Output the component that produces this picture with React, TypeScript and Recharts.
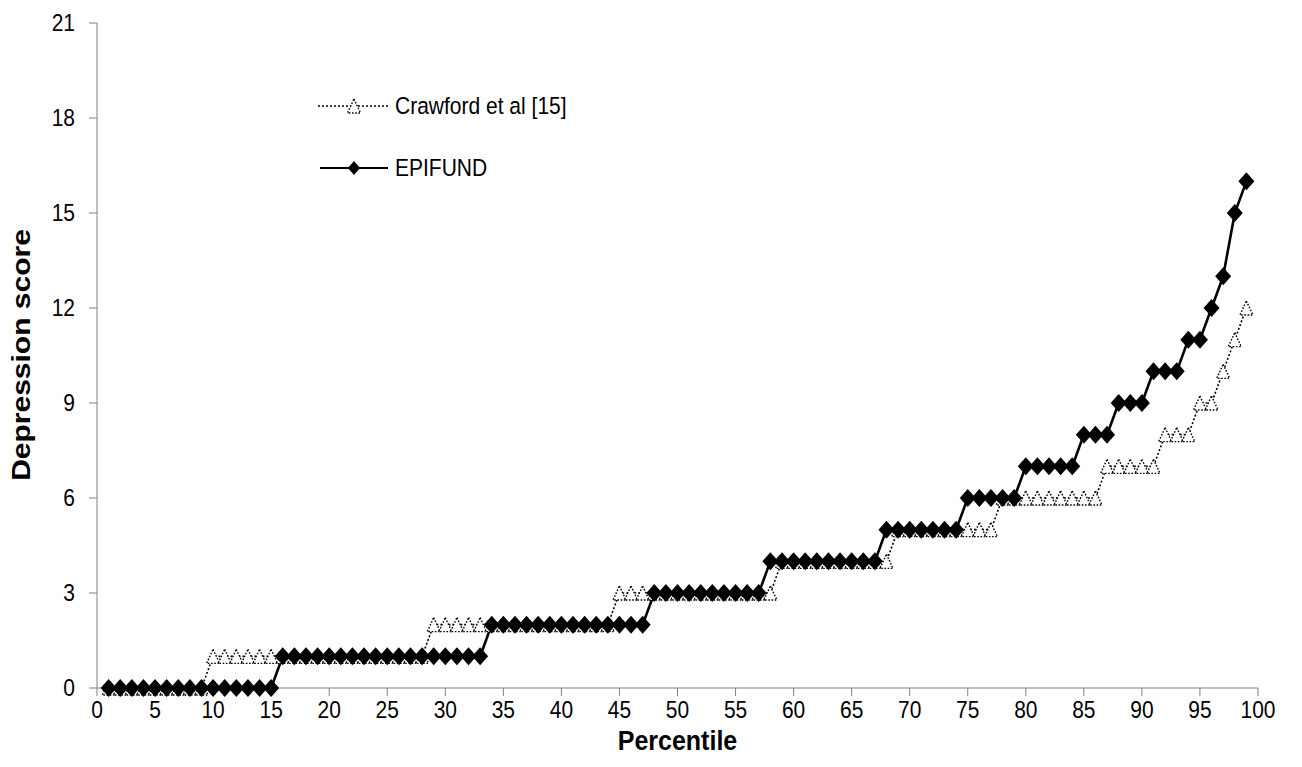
import React from 'react';
import { LineChart, Line, XAxis, YAxis, Legend, Label } from 'recharts';

// percentile rank (x)
const percentiles = [
  1, 2, 3, 4, 5, 6, 7, 8, 9, 10,
  11, 12, 13, 14, 15, 16, 17, 18, 19, 20,
  21, 22, 23, 24, 25, 26, 27, 28, 29, 30,
  31, 32, 33, 34, 35, 36, 37, 38, 39, 40,
  41, 42, 43, 44, 45, 46, 47, 48, 49, 50,
  51, 52, 53, 54, 55, 56, 57, 58, 59, 60,
  61, 62, 63, 64, 65, 66, 67, 68, 69, 70,
  71, 72, 73, 74, 75, 76, 77, 78, 79, 80,
  81, 82, 83, 84, 85, 86, 87, 88, 89, 90,
  91, 92, 93, 94, 95, 96, 97, 98, 99,
];

const crawford = [
  0, 0, 0, 0, 0, 0, 0, 0, 0, 1,
  1, 1, 1, 1, 1, 1, 1, 1, 1, 1,
  1, 1, 1, 1, 1, 1, 1, 1, 2, 2,
  2, 2, 2, 2, 2, 2, 2, 2, 2, 2,
  2, 2, 2, 2, 3, 3, 3, 3, 3, 3,
  3, 3, 3, 3, 3, 3, 3, 3, 4, 4,
  4, 4, 4, 4, 4, 4, 4, 4, 5, 5,
  5, 5, 5, 5, 5, 5, 5, 6, 6, 6,
  6, 6, 6, 6, 6, 6, 7, 7, 7, 7,
  7, 8, 8, 8, 9, 9, 10, 11, 12,
];

const epifund = [
  0, 0, 0, 0, 0, 0, 0, 0, 0, 0,
  0, 0, 0, 0, 0, 1, 1, 1, 1, 1,
  1, 1, 1, 1, 1, 1, 1, 1, 1, 1,
  1, 1, 1, 2, 2, 2, 2, 2, 2, 2,
  2, 2, 2, 2, 2, 2, 2, 3, 3, 3,
  3, 3, 3, 3, 3, 3, 3, 4, 4, 4,
  4, 4, 4, 4, 4, 4, 4, 5, 5, 5,
  5, 5, 5, 5, 6, 6, 6, 6, 6, 7,
  7, 7, 7, 7, 8, 8, 8, 9, 9, 9,
  10, 10, 10, 11, 11, 12, 13, 15, 16,
];

const xTicks = [0, 5, 10, 15, 20, 25, 30, 35, 40, 45, 50, 55, 60, 65, 70, 75, 80, 85, 90, 95, 100];
const yTicks = [0, 3, 6, 9, 12, 15, 18, 21];

const data = percentiles.map((p, i) => ({ p, crawford: crawford[i], epifund: epifund[i] }));

const FONT = 'Arial, "Liberation Sans", sans-serif';
const AXIS = '#808080';
const STRETCH = 1.12; // the original figure's lettering is a bit taller than wide

const XTick = (props: any) => {
  const { x, y, payload } = props;
  return (
    <text
      transform={`translate(${x},${y}) scale(1,${STRETCH})`}
      textAnchor="middle"
      dy="0.71em"
      fontSize={21}
      fontFamily={FONT}
      fill="#000"
    >
      {payload.value}
    </text>
  );
};

const YTick = (props: any) => {
  const { x, y, payload } = props;
  return (
    <text
      transform={`translate(${x},${y}) scale(1,${STRETCH})`}
      textAnchor="end"
      dy="0.355em"
      fontSize={21}
      fontFamily={FONT}
      fill="#000"
    >
      {payload.value}
    </text>
  );
};

const Triangle = (props: any) => {
  const { cx, cy, index } = props;
  if (cx == null || cy == null) return <g key={index} />;
  return (
    <polygon
      key={index}
      points={`${cx},${cy - 7} ${cx + 6.5},${cy + 7} ${cx - 6.5},${cy + 7}`}
      fill="#fff"
      stroke="#000"
      strokeWidth={1.4}
      strokeDasharray="1.6 1.6"
    />
  );
};

const Diamond = (props: any) => {
  const { cx, cy, index } = props;
  if (cx == null || cy == null) return <g key={index} />;
  return (
    <polygon
      key={index}
      points={`${cx},${cy - 9} ${cx + 8},${cy} ${cx},${cy + 9} ${cx - 8},${cy}`}
      fill="#000"
    />
  );
};

const legendText = { display: 'inline-block', transform: `scaleY(${STRETCH})` };

const renderLegend = () => (
  <div style={{ fontFamily: FONT, fontSize: 21, color: '#000' }}>
    <div style={{ display: 'flex', alignItems: 'center', height: 28 }}>
      <svg width={77} height={28}>
        <line x1={0} y1={14} x2={72} y2={14} stroke="#000" strokeWidth={1.6} strokeDasharray="2 2" />
        <polygon points="36,7 42.5,21 29.5,21" fill="#fff" stroke="#000" strokeWidth={1.4} strokeDasharray="1.6 1.6" />
      </svg>
      <span style={legendText}>Crawford et al [15]</span>
    </div>
    <div style={{ height: 34 }} />
    <div style={{ display: 'flex', alignItems: 'center', height: 28 }}>
      <svg width={77} height={28}>
        <line x1={2} y1={14} x2={70} y2={14} stroke="#000" strokeWidth={2.2} />
        <polygon points="36,7 42,14 36,21 30,14" fill="#000" />
      </svg>
      <span style={legendText}>EPIFUND</span>
    </div>
  </div>
);

export default function App() {
  return (
    <div style={{ position: 'absolute', left: 0, top: 0, background: '#fff' }}>
      <LineChart width={1302} height={767} data={data} margin={{ top: 23, right: 44, left: 37, bottom: 0 }}>
        <XAxis
          dataKey="p"
          type="number"
          domain={[0, 100]}
          ticks={xTicks}
          interval={0}
          height={79}
          stroke={AXIS}
          tickSize={8}
          tickMargin={5}
          tick={<XTick />}
        >
          <Label
            content={(p: any) => {
              const vb = p.viewBox || {};
              const cx = (vb.x ?? 97) + (vb.width ?? 1161) / 2;
              return (
                <text
                  transform={`translate(${cx},741) scale(1,1.1)`}
                  textAnchor="middle"
                  dominantBaseline="central"
                  style={{ fontSize: 25, fontWeight: 'bold', fill: '#000', fontFamily: FONT }}
                >
                  Percentile
                </text>
              );
            }}
          />
        </XAxis>
        <YAxis
          type="number"
          domain={[0, 21]}
          ticks={yTicks}
          interval={0}
          width={60}
          stroke={AXIS}
          tickSize={8}
          tickMargin={14}
          tick={<YTick />}
        >
          <Label
            content={() => (
              <text
                transform="translate(21,355) rotate(-90) scale(1.2,1)"
                textAnchor="middle"
                dominantBaseline="central"
                style={{ fontSize: 25, fontWeight: 'bold', fill: '#000', fontFamily: FONT }}
              >
                Depression score
              </text>
            )}
          />
        </YAxis>
        <Legend
          layout="horizontal"
          verticalAlign="middle"
          align="center"
          content={renderLegend}
          wrapperStyle={{ left: 318, top: 92, width: 'auto' }}
        />
        <Line
          dataKey="crawford"
          name="Crawford et al [15]"
          stroke="#000"
          strokeWidth={1.6}
          strokeDasharray="2 2"
          dot={Triangle}
          activeDot={false}
          isAnimationActive={false}
        />
        <Line
          dataKey="epifund"
          name="EPIFUND"
          stroke="#000"
          strokeWidth={2.6}
          dot={Diamond}
          activeDot={false}
          isAnimationActive={false}
        />
      </LineChart>
    </div>
  );
}
